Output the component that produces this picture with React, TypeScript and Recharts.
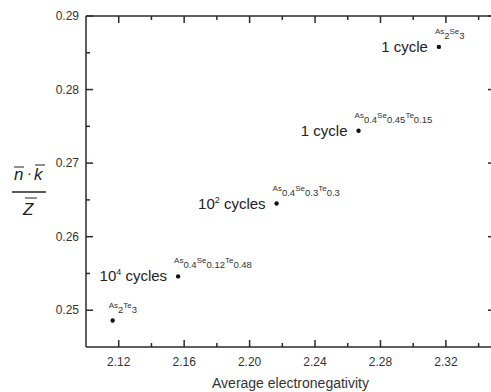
import React from 'react';
import { ScatterChart, Scatter, XAxis, YAxis } from 'recharts';

// average electronegativity vs n·k/Z for five chalcogenide glasses
const EN = [2.1163, 2.1563, 2.2165, 2.2666, 2.3157];
const NKZ = [0.2486, 0.2546, 0.2645, 0.2744, 0.2858];

const CYCLE_BASE = ['', '10', '10', '1', '1'];
const CYCLE_EXP = ['', '4', '2', '', ''];
const CYCLE_WORD = ['', 'cycles', 'cycles', 'cycle', 'cycle'];

const FORMULAS: [string, string][][] = [
  [['As', '2'], ['Te', '3']],
  [['As', '0.4'], ['Se', '0.12'], ['Te', '0.48']],
  [['As', '0.4'], ['Se', '0.3'], ['Te', '0.3']],
  [['As', '0.4'], ['Se', '0.45'], ['Te', '0.15']],
  [['As', '2'], ['Se', '3']],
];

const X_DOMAIN = [2.1, 2.35];
const Y_DOMAIN = [0.245, 0.29];
const X_MAJOR = [2.12, 2.16, 2.2, 2.24, 2.28, 2.32];
const X_MINOR = [2.14, 2.18, 2.22, 2.26, 2.3, 2.34];
const Y_MAJOR = [0.25, 0.26, 0.27, 0.28, 0.29];
const Y_MINOR = [0.255, 0.265, 0.275, 0.285];

const data = EN.map((x, i) => ({
  x,
  y: NKZ[i],
  base: CYCLE_BASE[i],
  exp: CYCLE_EXP[i],
  word: CYCLE_WORD[i],
  formula: FORMULAS[i],
}));

// inward tick marks on all four sides, placed through the chart's own scales
const xMarks = [
  ...X_MAJOR.map((v) => ({ v, major: true })),
  ...X_MINOR.map((v) => ({ v, major: false })),
];
const yMarks = [
  ...Y_MAJOR.map((v) => ({ v, major: true })),
  ...Y_MINOR.map((v) => ({ v, major: false })),
];
const tickMarks = [
  ...xMarks.map((m) => ({ x: m.v, y: Y_DOMAIN[0], dir: 'up', major: m.major })),
  ...xMarks.map((m) => ({ x: m.v, y: Y_DOMAIN[1], dir: 'down', major: m.major })),
  ...yMarks.map((m) => ({ x: X_DOMAIN[0], y: m.v, dir: 'right', major: m.major })),
  ...yMarks.map((m) => ({ x: X_DOMAIN[1], y: m.v, dir: 'left', major: m.major })),
];

const FONT = '"Liberation Sans", Arial, sans-serif';
const AXIS = '#2a2a2a';
const isMajor = (v: number, list: number[]) =>
  list.some((m) => Math.abs(m - v) < 1e-6);

function TickMark(props: any) {
  const { cx, cy, payload } = props;
  const len = payload.major ? 7 : 4;
  let d = '';
  if (payload.dir === 'up') d = `M${cx},${cy}L${cx},${cy - len}`;
  if (payload.dir === 'down') d = `M${cx},${cy}L${cx},${cy + len}`;
  if (payload.dir === 'right') d = `M${cx},${cy}L${cx + len},${cy}`;
  if (payload.dir === 'left') d = `M${cx},${cy}L${cx - len},${cy}`;
  return <path d={d} stroke={AXIS} strokeWidth={1.5} fill="none" />;
}

function BottomLabel(props: any) {
  const { x, y, payload } = props;
  return (
    <text x={x} y={y + 19} textAnchor="middle" fontSize={12} fill="#333" fontFamily={FONT}>
      {isMajor(payload.value, X_MAJOR) ? payload.value.toFixed(2) : ''}
    </text>
  );
}

function LeftLabel(props: any) {
  const { x, y, payload } = props;
  return (
    <text x={x - 7} y={y + 4} textAnchor="end" fontSize={12} fill="#333" fontFamily={FONT}>
      {isMajor(payload.value, Y_MAJOR) ? payload.value.toFixed(2) : ''}
    </text>
  );
}

const NoLabel = () => <g />;

function PointShape(props: any) {
  const { cx, cy, payload } = props;
  return (
    <g fontFamily={FONT}>
      <circle cx={cx} cy={cy} r={2.2} fill="#111" />
      {payload.base ? (
        <text x={cx - 11} y={cy + 5} textAnchor="end" fontSize={15} fill="#222">
          <tspan>{payload.base}</tspan>
          {payload.exp ? (
            <tspan dy={-6} fontSize={9}>
              {payload.exp}
            </tspan>
          ) : null}
          <tspan dy={payload.exp ? 6 : 0}>{' ' + payload.word}</tspan>
        </text>
      ) : null}
      <text x={cx - 4} y={cy - 13} fontSize={8} fill="#333">
        {payload.formula.map(([el, sub]: [string, string], i: number) => (
          <React.Fragment key={i}>
            <tspan dy={i === 0 ? 0 : -5} fontSize={8}>
              {el}
            </tspan>
            <tspan dy={5} fontSize={9.5}>
              {sub}
            </tspan>
          </React.Fragment>
        ))}
      </text>
    </g>
  );
}

function YFraction() {
  return (
    <g fontFamily={FONT} fill="#222" fontStyle="italic">
      <text x={14} y={180} fontSize={17}>
        n
      </text>
      <text x={27} y={178} fontSize={14} fontStyle="normal">
        ·
      </text>
      <text x={34} y={180} fontSize={17}>
        k
      </text>
      <path d="M14,167L24,167M35,165L45,165M25,198L37,198" stroke="#222" strokeWidth={1.2} />
      <path d="M12,192L46,192" stroke="#222" strokeWidth={1.3} />
      <text x={23} y={215} fontSize={17}>
        Z
      </text>
    </g>
  );
}

export default function App() {
  return (
    <div
      style={{
        position: 'absolute',
        left: 0,
        top: 0,
        width: 491,
        height: 392,
        overflow: 'hidden',
      }}
    >
      <ScatterChart width={500} height={392} margin={{ top: 15, right: 5, bottom: 0, left: 30 }}>
        <XAxis
          xAxisId="b"
          type="number"
          dataKey="x"
          domain={X_DOMAIN}
          ticks={X_MAJOR}
          interval={0}
          tickSize={0}
          tickMargin={0}
          tickLine={false}
          tick={BottomLabel}
          height={45}
          axisLine={{ stroke: AXIS, strokeWidth: 1.5 }}
          label={{
            value: 'Average electronegativity',
            position: 'insideBottom',
            offset: 4,
            fontSize: 14,
            fill: '#333',
            fontFamily: FONT,
          }}
        />
        <XAxis
          xAxisId="t"
          orientation="top"
          type="number"
          dataKey="x"
          domain={X_DOMAIN}
          ticks={X_MAJOR}
          interval={0}
          tickSize={0}
          tickMargin={0}
          tickLine={false}
          tick={NoLabel}
          height={1}
          axisLine={{ stroke: AXIS, strokeWidth: 1.5 }}
        />
        <YAxis
          yAxisId="l"
          type="number"
          dataKey="y"
          domain={Y_DOMAIN}
          ticks={Y_MAJOR}
          interval={0}
          tickSize={0}
          tickMargin={0}
          tickLine={false}
          tick={LeftLabel}
          width={56}
          axisLine={{ stroke: AXIS, strokeWidth: 1.5 }}
          label={{ content: YFraction }}
        />
        <Scatter
          data={tickMarks}
          xAxisId="b"
          yAxisId="l"
          shape={TickMark}
          legendType="none"
          isAnimationActive={false}
        />
        <Scatter
          data={data}
          xAxisId="b"
          yAxisId="l"
          shape={PointShape}
          isAnimationActive={false}
        />
      </ScatterChart>
    </div>
  );
}
